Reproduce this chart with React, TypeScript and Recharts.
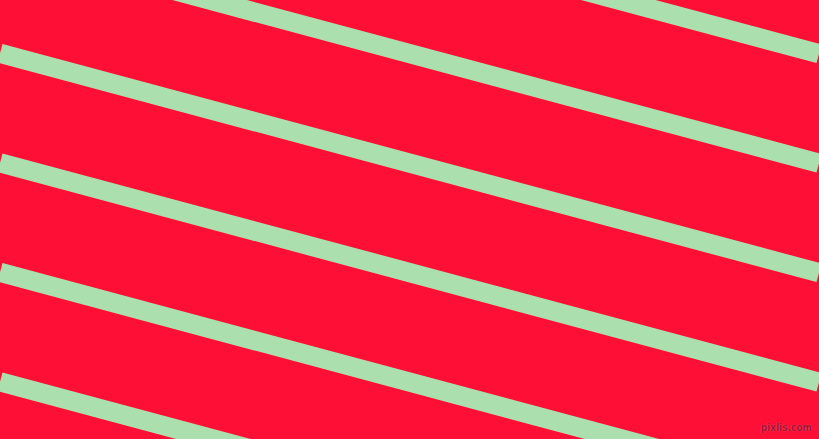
import React from 'react';
import { ComposedChart, Line, XAxis, YAxis } from 'recharts';

// stripe centre heights (px from top) where each stripe meets the left and right edges
const stripeLeftY = [-165.7, -56.2, 53.3, 162.8, 272.3, 381.8];
const stripeRightY = [53.8, 163.3, 272.8, 382.3, 491.8, 601.3];
const edgeX = [0, 819];

const WIDTH = 819;
const HEIGHT = 439;
const BG = '#FE0F35';
const STRIPE = '#ABE0AE';

const App: React.FC = () => {
  const stripes = stripeLeftY.map((y0, i) => [
    { x: edgeX[0], y: y0 },
    { x: edgeX[1], y: stripeRightY[i] },
  ]);

  return (
    <div style={{ position: 'fixed', left: 0, top: 0, width: WIDTH, height: HEIGHT, background: BG, overflow: 'hidden' }}>
      <ComposedChart width={WIDTH} height={HEIGHT} margin={{ top: 0, right: 0, bottom: 0, left: 0 }}>
        <XAxis type="number" dataKey="x" domain={[0, WIDTH]} hide allowDataOverflow />
        <YAxis type="number" dataKey="y" domain={[0, HEIGHT]} reversed hide allowDataOverflow />
        {stripes.map((d, i) => (
          <Line
            key={i}
            data={d}
            dataKey="y"
            type="linear"
            stroke={STRIPE}
            strokeWidth={19.3}
            strokeLinecap="butt"
            dot={false}
            activeDot={false}
            isAnimationActive={false}
          />
        ))}
      </ComposedChart>
      <div
        style={{
          position: 'absolute',
          right: 7,
          top: 422,
          fontFamily: '"DejaVu Sans Condensed", "DejaVu Sans", sans-serif',
          fontSize: 10,
          fontWeight: 'bold',
          lineHeight: '11px',
          color: '#A80F30',
          textShadow: '0 0 1px #ff7080',
          whiteSpace: 'nowrap',
        }}
      >
        pixlis.com
      </div>
    </div>
  );
};

export default App;
